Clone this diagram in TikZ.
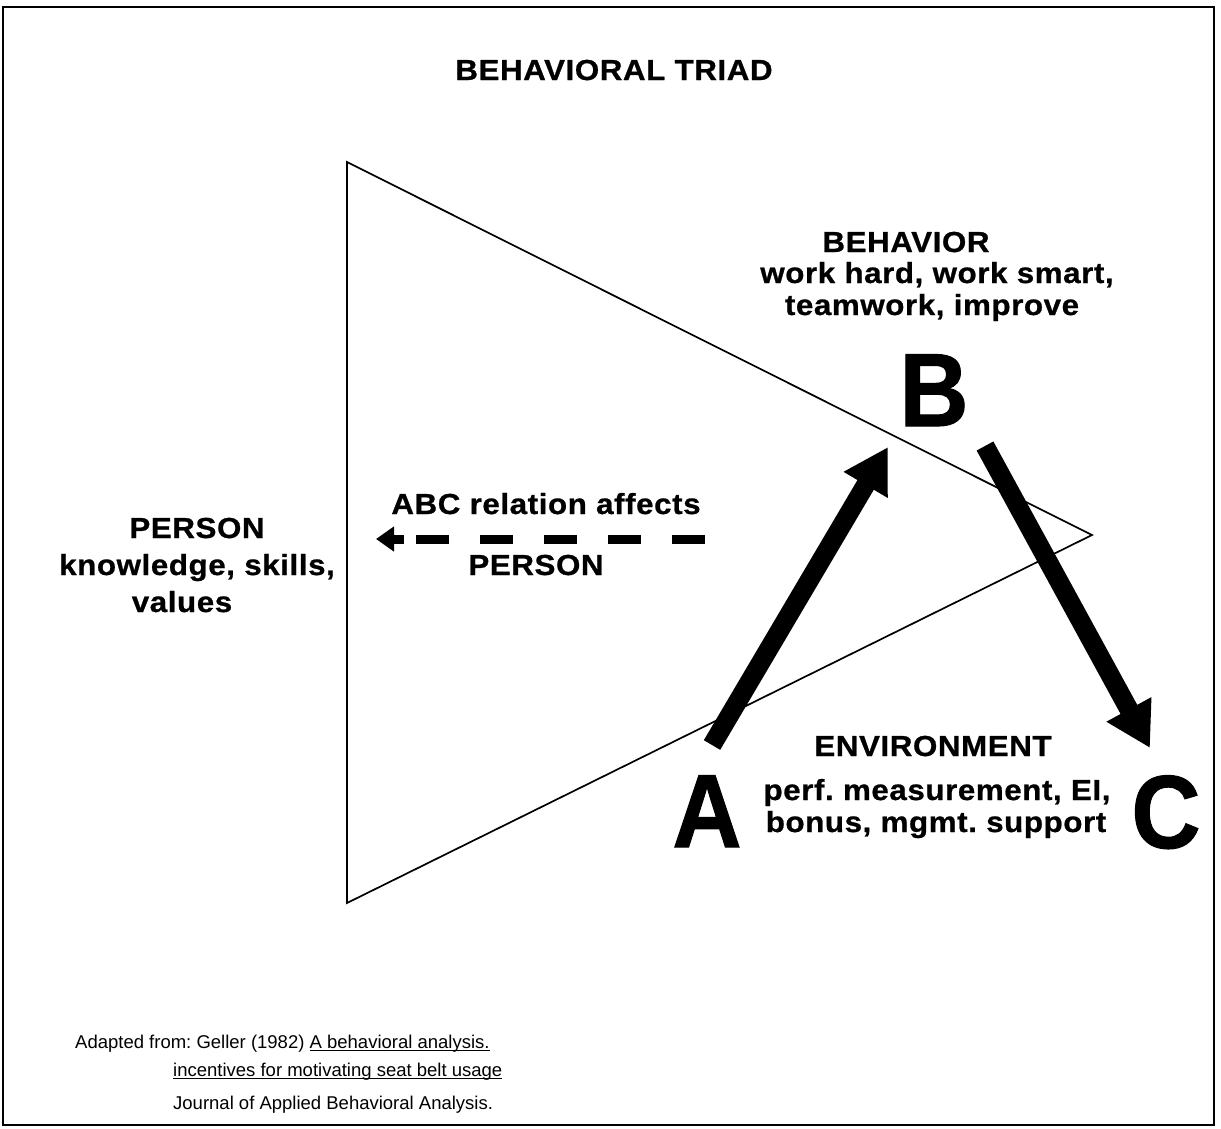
\documentclass[tikz,border=0pt]{standalone}
\usepackage{fontspec}
\setmainfont{Liberation Sans}
\newfontfamily\lblfont[FakeStretch=1.08,FakeBold=0.8,LetterSpace=2]{Liberation Sans}
\newfontfamily\bigfont[FakeStretch=0.92,FakeBold=1]{Liberation Sans}
\usetikzlibrary{arrows.meta}
\newcommand\thickul[1]{\setbox0=\hbox{#1}\rlap{\rule[-3pt]{\wd0}{1.2pt}}\box0}
\frenchspacing
\begin{document}
\begin{tikzpicture}[x=1pt,y=-1pt,
  lbl/.style={anchor=base,inner sep=0pt,font=\lblfont\bfseries\fontsize{29}{32}\selectfont},
  bigletter/.style={anchor=base,inner sep=0pt,font=\bigfont\bfseries\fontsize{104}{110}\selectfont},
  foot/.style={anchor=base west,inner sep=0pt,font=\fontsize{18.5}{21}\selectfont},
  frame/.style={line width=2.5pt},
  triad/.style={line width=1.7pt,line join=miter},
  bigarrow/.style={line width=19pt,-{Triangle[length=44pt,width=48pt]}},
  dashline/.style={line width=9pt,dash pattern=on 33pt off 31pt},
  dashtip/.style={line width=9pt,-{Triangle[length=18pt,width=24pt]}}
]
\useasboundingbox (0,0) rectangle (1221,1128);
\draw[frame] (3,7) rectangle (1214,1125);

% title
\node[lbl] (title) at (614,80) {BEHAVIORAL TRIAD};

% triangle
\coordinate (tl) at (347,162);
\coordinate (bl) at (347,903);
\coordinate (rt) at (1092,535);
\draw[triad] (tl) -- (rt) -- (bl) -- cycle;

% behavior block
\node[lbl] (beh1) at (906,252) {BEHAVIOR};
\node[lbl] (beh2) at (937,283) {work hard, work smart,};
\node[lbl] (beh3) at (932,315) {teamwork, improve};

% person block
\node[lbl] (per1) at (197,538) {PERSON};
\node[lbl] (per2) at (197,575) {knowledge, skills,};
\node[lbl] (per3) at (182,612) {values};

% ABC relation
\node[lbl] (abc1) at (546,514) {ABC relation affects};
\node[lbl] (abc2) at (536,575) {PERSON};
\coordinate (dStart) at (705,539);
\coordinate (dEnd) at (416,539);
\draw[dashline] (dStart) -- (dEnd);
\coordinate (tStart) at (404,539);
\coordinate (tTip) at (376,539);
\draw[dashtip] (tStart) -- (tTip);

% environment block
\node[lbl] (env1) at (933,756) {ENVIRONMENT};
\node[lbl] (env2) at (937,800) {perf. measurement, EI,};
\node[lbl] (env3) at (936,832) {bonus, mgmt. support};

% big letters
\node[bigletter] (A) at (707,847) {A};
\node[bigletter] (B) at (934,426) {B};
\node[bigletter] (C) at (1166,848) {C};

% big arrows
\coordinate (abTail) at (712,745);
\coordinate (abTip) at (888,447);
\draw[bigarrow] (abTail) -- (abTip);
\coordinate (bcTail) at (985,446);
\coordinate (bcTip) at (1150,748);
\draw[bigarrow] (bcTail) -- (bcTip);

% footnote
\node[foot] (f1) at (75,1048) {Adapted from: Geller (1982) \thickul{A behavioral analysis.}};
\node[foot] (f2) at (173,1076) {\thickul{incentives for motivating seat belt usage}};
\node[foot] (f3) at (173,1109) {Journal of Applied Behavioral Analysis.};
\end{tikzpicture}
\end{document}
